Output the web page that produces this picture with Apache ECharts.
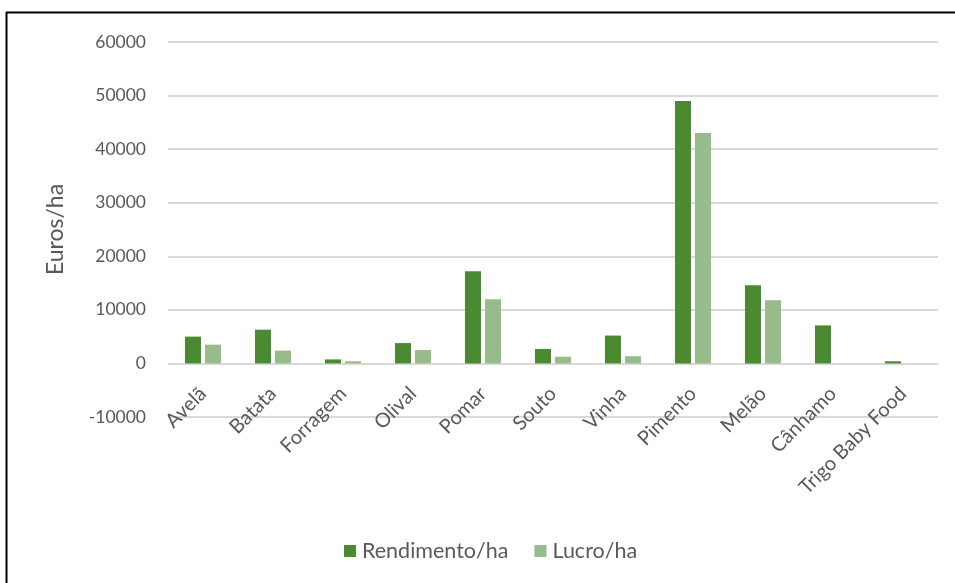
<!DOCTYPE html>
<html>
<head>
<meta charset="utf-8">
<script src="https://cdn.jsdelivr.net/npm/echarts@6/dist/echarts.min.js"></script>
<style>
html,body{margin:0;padding:0;background:#fff;}
#c{width:955px;height:583px;}
</style>
</head>
<body>
<div id="c"></div>
<script>
var categories = ['Avelã','Batata','Forragem','Olival','Pomar','Souto','Vinha','Pimento','Melão','Cânhamo','Trigo Baby Food'];
var rendimento = [5000, 6300, 750, 3800, 17200, 2700, 5200, 49000, 14600, 7100, 400];
var lucro = [3500, 2400, 400, 2500, 12000, 1250, 1350, 43000, 11800, 0, 0];
var seriesNames = ['Rendimento/ha', 'Lucro/ha'];
var yMin = -10000, yMax = 60000, yStep = 10000;

var chart = echarts.init(document.getElementById('c'), null, {renderer:'canvas'});
var txt = '#595959';
var font = 'Lato, "Open Sans", sans-serif';
var plotH = 583 - 42 - 166;
var zeroOffset = plotH * (0 - yMin) / (yMax - yMin);
chart.setOption({
  animation:false,
  backgroundColor:'#fff',
  graphic:[
    {type:'line', shape:{x1:6, y1:12.5, x2:955, y2:12.5}, style:{stroke:'#000', lineWidth:2}},
    {type:'line', shape:{x1:6.5, y1:12, x2:6.5, y2:583}, style:{stroke:'#000', lineWidth:2}}
  ],
  grid:{left:168, right:17, top:42, bottom:166, containLabel:false},
  legend:{
    data:seriesNames, left:339, top:535, itemWidth:12, itemHeight:12, itemGap:26,
    icon:'rect',
    textStyle:{color:txt, fontSize:21.5, fontFamily:font, padding:[0,0,0,1]}
  },
  xAxis:{
    type:'category', data:categories,
    offset:-zeroOffset,
    axisLine:{show:false},
    axisTick:{show:false},
    axisLabel:{rotate:45, margin:27, color:txt, fontSize:20, fontFamily:font, interval:0}
  },
  yAxis:{
    type:'value', min:yMin, max:yMax, interval:yStep,
    name:'Euros/ha', nameLocation:'middle', nameGap:101,
    nameTextStyle:{color:txt, fontSize:23, fontFamily:font},
    axisLine:{show:false}, axisTick:{show:false},
    axisLabel:{color:txt, fontSize:17.5, fontFamily:font, margin:22, formatter:function(v){return String(v);}},
    splitLine:{lineStyle:{color:'#d9d9d9', width:2}}
  },
  series:[
    {name:seriesNames[0], type:'bar', data:rendimento, barWidth:16, barGap:'25%',
     itemStyle:{color:'#4a8b31'}},
    {name:seriesNames[1], type:'bar', data:lucro, barWidth:16,
     itemStyle:{color:'#97bb8b'}}
  ]
});
</script>
</body>
</html>
